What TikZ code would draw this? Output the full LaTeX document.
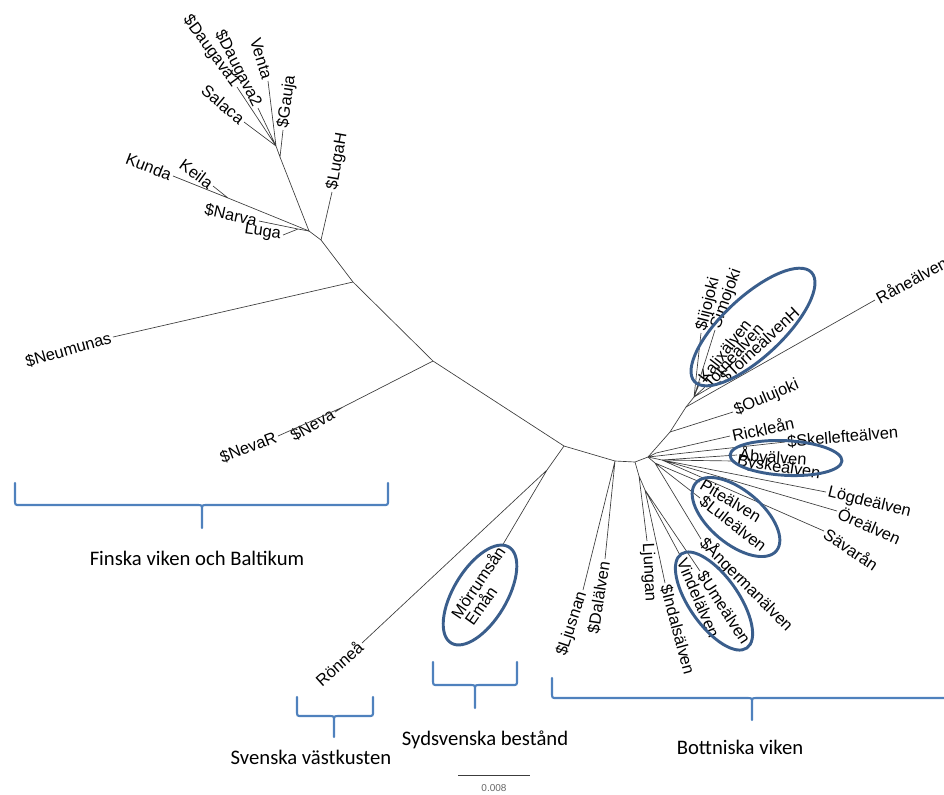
\documentclass[tikz,border=0pt]{standalone}
\usepackage{fontspec}
\setmainfont{Liberation Sans}
\newfontfamily\bracefont{Carlito}
\usetikzlibrary{shapes.geometric}

\definecolor{treegray}{RGB}{60,60,60}
\definecolor{ovalblue}{RGB}{58,94,140}
\definecolor{braceblue}{RGB}{79,129,189}

\begin{document}
\begin{tikzpicture}[x=0.75pt,y=-0.75pt,
    edge/.style={draw=treegray, line width=0.5pt},
    tipl/.style={anchor=east, inner sep=1.5pt, font=\fontsize{12.3}{14}\selectfont},
    tipr/.style={anchor=west, inner sep=1.5pt, font=\fontsize{12.3}{14}\selectfont},
    oval/.style={draw=ovalblue, line width=2.2pt, ellipse, inner sep=0pt},
    bracket/.style={draw=braceblue, line width=1.6pt, line cap=round},
    grouplabel/.style={font=\bracefont\fontsize{15.5}{18}\selectfont}]
  \useasboundingbox (0,0) rectangle (944,794);

  % inner nodes of the tree
  \coordinate (a1) at (280,157);
  \coordinate (a2) at (276,146);
  \coordinate (f1) at (309,231);
  \coordinate (f2) at (228,198);
  \coordinate (f3) at (298,229);
  \coordinate (b1) at (321,240);
  \coordinate (b2) at (353,282);
  \coordinate (b3) at (433,361);
  \coordinate (nv) at (343,407);
  \coordinate (b4) at (564,446);
  \coordinate (s1) at (547,470);
  \coordinate (b5) at (615,461);
  \coordinate (b6) at (635,462);
  \coordinate (b7) at (648,457);
  \coordinate (l1) at (639,476);
  \coordinate (l2) at (645,490);
  \coordinate (u1) at (670,432);
  \coordinate (u2) at (686,407);
  \coordinate (u3) at (694,397);
  \coordinate (r1) at (656,453);
  \coordinate (r2) at (662,460);
  \coordinate (r3) at (655,463);

  % leaves
  \node[tipl, rotate=-40] (salaca) at (244,122) {Salaca};
  \node[tipl, rotate=-54] (daug1) at (237,87) {\$Daugava1};
  \node[tipl, rotate=-63] (daug2) at (258,108) {\$Daugava2};
  \node[tipl, rotate=-73] (venta) at (268,81) {Venta};
  \node[tipr, rotate=82] (gauja) at (283,130) {\$Gauja};
  \node[tipl, rotate=-21] (kunda) at (173,176) {Kunda};
  \node[tipl, rotate=-36] (keila) at (213,186) {Keila};
  \node[tipl, rotate=-12] (narva) at (259,221) {\$Narva};
  \node[tipl, rotate=-8] (luga) at (283,235) {Luga};
  \node[tipr, rotate=80] (lugah) at (332,192) {\$LugaH};
  \node[tipl, rotate=16] (neumunas) at (113,337) {\$Neumunas};
  \node[tipl, rotate=30] (neva) at (335,412) {\$Neva};
  \node[tipl, rotate=21] (nevar) at (278,436) {\$NevaR};
  \node[tipl, rotate=42] (ronnea) at (362,643) {Rönneå};
  \node[tipl, rotate=56] (morrum) at (502,546) {Mörrumsån};
  \node[tipl, rotate=55] (eman) at (494,586) {Emån};
  \node[tipl, rotate=72] (ljusnan) at (583,590) {\$Ljusnan};
  \node[tipl, rotate=81] (dalalven) at (605,559) {\$Dalälven};
  \node[tipr, rotate=-87] (ljungan) at (647,541) {Ljungan};
  \node[tipr, rotate=-75] (indals) at (665,583) {\$Indalsälven};
  \node[tipr, rotate=-67] (vindel) at (681,557) {Vindelälven};
  \node[tipr, rotate=-57] (umealv) at (700,571) {\$Umeälven};
  \node[tipr, rotate=-45] (anger) at (701,539) {\$Ångermanälven};
  \node[tipr, rotate=-31] (pite) at (700,482) {Piteälven};
  \node[tipr, rotate=-38] (lule) at (700,498) {\$Luleälven};
  \node[tipr, rotate=-34] (savar) at (824,531) {Sävarån};
  \node[tipr, rotate=-24] (ore) at (837,511) {Öreälven};
  \node[tipr, rotate=-14] (logde) at (826,492) {Lögdeälven};
  \node[tipr, rotate=-9] (byske) at (735,461) {Byskeälven};
  \node[tipr, rotate=-4] (aby) at (737,455) {Åbyälven};
  \node[tipr, rotate=5] (skell) at (785,442) {\$Skellefteälven};
  \node[tipr, rotate=12] (rickle) at (730,436) {Rickleån};
  \node[tipr, rotate=23] (oulu) at (733,412) {\$Oulujoki};
  \node[tipr, rotate=29] (raane) at (875,300) {Råneälven};
  \node[tipr, rotate=76] (iijo) at (701,333) {\$Iijojoki};
  \node[tipr, rotate=70] (simo) at (715,330) {Simojoki};
  \node[tipr, rotate=52] (kalix) at (700,382) {Kalixälven};
  \node[tipr, rotate=48] (torne) at (705,387) {Torneälven};
  \node[tipr, rotate=43] (torneh) at (721,381) {\$TorneälvenH};

  % branches
  \draw[edge] (a1) -- (f1) -- (b1) -- (b2) -- (b3) -- (b4) -- (b5) -- (b6) -- (b7);
  \draw[edge] (a1) -- (a2) (a1) -- (gauja.west);
  \draw[edge] (a2) -- (salaca.east) (a2) -- (daug1.east) (a2) -- (daug2.east) (a2) -- (venta.east);
  \draw[edge] (f1) -- (f2) -- (kunda.east) (f2) -- (keila.east);
  \draw[edge] (f1) -- (f3) -- (narva.east) (f3) -- (luga.east);
  \draw[edge] (b1) -- (lugah.west);
  \draw[edge] (b2) -- (neumunas.east);
  \draw[edge] (b3) -- (nv) -- (nevar.east) (nv) -- (neva.east);
  \draw[edge] (b4) -- (s1) -- (ronnea.east) (s1) -- (morrum.east);
  \draw[edge] (b5) -- (ljusnan.east) (b5) -- (dalalven.east);
  \draw[edge] (b6) -- (l1) -- (ljungan.west) (l1) -- (l2) -- (indals.west) (l2) -- (vindel.west) (l2) -- (umealv.west);
  \draw[edge] (b7) -- (u1) -- (u2) -- (u3);
  \draw[edge] (u1) -- (oulu.west) (u2) -- (raane.west);
  \draw[edge] (u3) -- (iijo.west) (u3) -- (simo.west) (u3) -- (kalix.west) (u3) -- (torne.west) (u3) -- (torneh.west);
  \draw[edge] (b7) -- (r1) -- (rickle.west) (b7) -- (skell.west);
  \draw[edge] (b7) -- (r2) -- (aby.west) (r2) -- (byske.west);
  \draw[edge] (r2) -- (logde.west) (r2) -- (ore.west) (r2) -- (savar.west);
  \draw[edge] (b7) -- (r3) -- (pite.west) (r3) -- (lule.west) (r3) -- (anger.west);

  % groups
  \node[oval, rotate=43, minimum width=120pt, minimum height=45pt] (ovalN) at (753,327) {};
  \node[oval, rotate=-3, minimum width=84pt, minimum height=26pt] (ovalA) at (786,458) {};
  \node[oval, rotate=-40, minimum width=79pt, minimum height=40pt] (ovalP) at (736,517) {};
  \node[oval, rotate=-55, minimum width=86pt, minimum height=37pt] (ovalU) at (714,601) {};
  \node[oval, rotate=59, minimum width=84pt, minimum height=40pt] (ovalS) at (480,595) {};

  % braces
  \draw[bracket] (15,483) -- (15,500) .. controls (15,505) .. (20,505) -- (197,505) .. controls (202,505) .. (202,510) -- (202,528)
    (388,483) -- (388,500) .. controls (388,505) .. (383,505) -- (207,505) .. controls (202,505) .. (202,510);
  \draw[bracket] (297,697) -- (297,711) .. controls (297,716) .. (302,716) -- (329,716) .. controls (334,716) .. (334,721) -- (334,737)
    (373,697) -- (373,711) .. controls (373,716) .. (368,716) -- (339,716) .. controls (334,716) .. (334,721);
  \draw[bracket] (433,662) -- (433,680) .. controls (433,685) .. (438,685) -- (470,685) .. controls (475,685) .. (475,690) -- (475,708)
    (517,662) -- (517,680) .. controls (517,685) .. (512,685) -- (480,685) .. controls (475,685) .. (475,690);
  \draw[bracket] (552,678) -- (552,693) .. controls (552,698) .. (557,698) -- (747,698) .. controls (752,698) .. (752,703) -- (752,720)
    (960,698) -- (757,698) .. controls (752,698) .. (752,703);

  \node[grouplabel] (finska) at (197,558) {Finska viken och Baltikum};
  \node[grouplabel] (vastkust) at (311,757) {Svenska västkusten};
  \node[grouplabel] (sydsv) at (485,740) {Sydsvenska bestånd};
  \node[grouplabel] (bottn) at (740,747) {Bottniska viken};

  % scale
  \coordinate (sc1) at (458,775);
  \coordinate (sc2) at (530,775);
  \draw[edge] (sc1) -- (sc2);
  \node[font=\fontsize{7.5}{9}\selectfont, text=gray!80!black] (scale) at (494,788) {0.008};
\end{tikzpicture}
\end{document}
